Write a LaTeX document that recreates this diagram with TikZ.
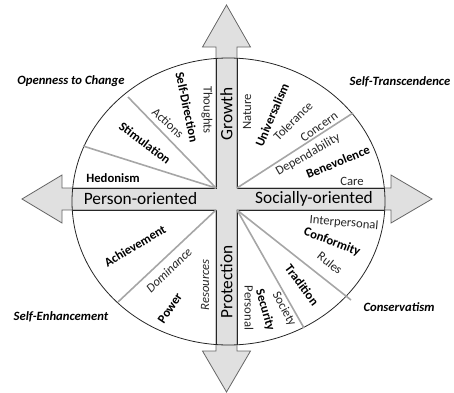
\documentclass[tikz,border=0pt]{standalone}
\usepackage{fontspec}
\setmainfont{Carlito}
\begin{document}
\begin{tikzpicture}[x=0.75pt,y=-0.75pt]
	\def \cx{226.5}
	\def \cy{199}
	\tikzstyle{cross}=[draw=black!60,fill=black!12,line width=0.6pt,line join=miter]
	\tikzstyle{rim}=[draw=black!85,line width=0.6pt]
	\tikzstyle{divider}=[draw=black!35,line width=1.2pt]
	\tikzstyle{axis-lbl}=[font=\fontsize{13}{15}\selectfont,inner sep=0pt]
	\tikzstyle{value}=[font=\fontsize{9.5}{11}\selectfont\bfseries,inner sep=0pt]
	\tikzstyle{facet}=[font=\fontsize{9.5}{11}\selectfont,text=black!85,inner sep=0pt]
	\tikzstyle{facet-it}=[font=\fontsize{9.5}{11}\selectfont\itshape,text=black!85,inner sep=0pt]
	\tikzstyle{group}=[font=\fontsize{9.5}{11}\selectfont\bfseries\itshape,inner sep=0pt]
	\useasboundingbox (0,0) rectangle (454,393);

	% four-way arrow
	\draw[cross] (\cx,5) -- (250.5,47) -- (237,47) -- (237,188) -- (391,188) -- (391,175)
		-- (432,\cy) -- (391,223) -- (391,210) -- (237,210) -- (237,351) -- (250.5,351)
		-- (\cx,392) -- (202.5,351) -- (216,351) -- (216,210) -- (62,210) -- (62,223)
		-- (22,\cy) -- (62,175) -- (62,188) -- (216,188) -- (216,47) -- (202.5,47) -- cycle;

	% corners of the quadrants
	\coordinate (ul) at (216,188);
	\coordinate (ur) at (237,188);
	\coordinate (ll) at (216,210);
	\coordinate (lr) at (237,210);

	% quadrant edges and rim
	\begin{scope}
		\clip (228.5,201.5) ellipse [x radius=156.5, y radius=143.5];
		\draw[rim] (216,40) -- (ul) -- (50,188);
		\draw[rim] (237,40) -- (ur) -- (400,188);
		\draw[rim] (216,360) -- (ll) -- (50,210);
		\draw[rim] (237,360) -- (lr) -- (400,210);
	\end{scope}
	\draw[rim] (228.5,201.5) ellipse [x radius=156.5, y radius=143.5];

	% dividers
	\coordinate (d-sd) at (128,97);
	\coordinate (d-st) at (83,146);
	\coordinate (d-un) at (353,113);
	\coordinate (d-ac) at (118,302);
	\coordinate (d-co) at (351,300);
	\coordinate (d-tr) at (304,328);
	\draw[divider] (ul) -- (d-sd);
	\draw[divider] (ul) -- (d-st);
	\draw[divider] (ur) -- (d-un);
	\draw[divider] (ll) -- (d-ac);
	\draw[divider] (lr) -- (d-co);
	\draw[divider] (lr) -- (d-tr);

	% axes
	\node[axis-lbl,rotate=90] (growth) at (\cx,114) {Growth};
	\node[axis-lbl,rotate=90] (protection) at (\cx,282) {Protection};
	\node[axis-lbl] (person) at (140.5,\cy) {Person-oriented};
	\node[axis-lbl] (social) at (314,\cy) {Socially-oriented};

	% higher order groups
	\node[group] (openness) at (71,81) {Openness to Change};
	\node[group] (transcend) at (400,82) {Self-Transcendence};
	\node[group] (enhance) at (61,317) {Self-Enhancement};
	\node[group] (conserv) at (399,307) {Conservatism};

	% openness to change
	\node[value,rotate=-78] (selfdir) at (187,107) {Self-Direction};
	\node[facet,rotate=-90] (thoughts) at (207,110) {Thoughts};
	\node[facet,rotate=-43] (actions) at (168,123) {Actions};
	\node[value,rotate=-37] (stim) at (145,143) {Stimulation};
	\node[value] (hedon) at (113,178) {Hedonism};

	% self-transcendence
	\node[facet,rotate=90] (nature) at (247,112) {Nature};
	\node[value,rotate=67] (univ) at (272,115) {Universalism};
	\node[facet,rotate=45] (toler) at (293,121) {Tolerance};
	\node[facet,rotate=36] (concern) at (319,127) {Concern};
	\node[facet,rotate=30] (depend) at (308,155) {Dependability};
	\node[value,rotate=22] (benev) at (338,162) {Benevolence};
	\node[facet] (care) at (352,181) {Care};

	% self-enhancement
	\node[value,rotate=31] (achieve) at (135,246) {Achievement};
	\node[facet-it,rotate=44] (domin) at (169,270) {Dominance};
	\node[value,rotate=56] (power) at (170,308) {Power};
	\node[facet-it,rotate=90] (resour) at (205,285) {Resources};

	% conservatism
	\node[facet,rotate=-5] (interp) at (344,223) {Interpersonal};
	\node[value,rotate=-21] (conform) at (332,242) {Conformity};
	\node[facet,rotate=-38] (rules) at (330,263) {Rules};
	\node[value,rotate=-53] (tradit) at (302,285) {Tradition};
	\node[facet,rotate=-62] (society) at (284,309) {Society};
	\node[value,rotate=-74] (secur) at (265,310) {Security};
	\node[facet,rotate=-90] (personal) at (249,308) {Personal};

\end{tikzpicture}
\end{document}
